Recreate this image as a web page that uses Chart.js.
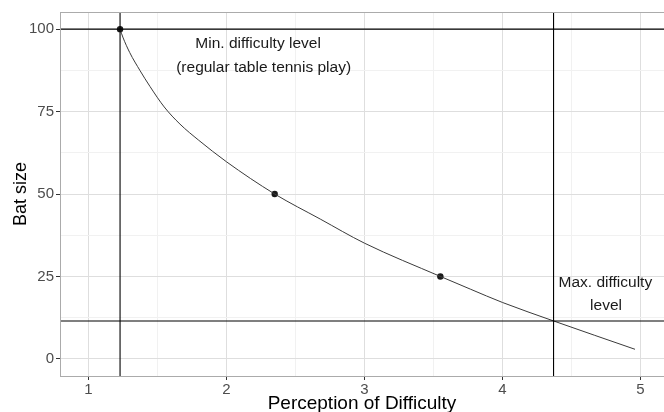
<!DOCTYPE html>
<html>
<head>
<meta charset="utf-8">
<script src="https://cdn.jsdelivr.net/npm/chart.js@4/dist/chart.umd.min.js"></script>
<style>
  html, body { margin: 0; padding: 0; background: #fff; }
  canvas { display: block; }
</style>
</head>
<body>
<canvas id="chart" width="664" height="412"></canvas>
<script>
// curve
const curveX = [1.23, 1.25, 1.30, 1.375, 1.447, 1.55, 1.664, 1.80, 2.00, 2.35, 2.68, 3.00, 3.55, 3.77, 4.00, 4.37, 4.96];
const curveY = [100, 97.6, 92.9, 87.4, 82.6, 76.4, 71.2, 66.3, 59.8, 50, 42.4, 35.1, 25, 21.1, 17.1, 11.5, 2.9];

// highlighted points
const pointX = [1.23, 2.35, 3.55];
const pointY = [100, 50, 25];

// reference lines
const hLines = [100, 11.5];
const vLines = [1.23, 4.37];

// ticks
const xMajor = [1, 2, 3, 4, 5];
const xMinor = [1.5, 2.5, 3.5, 4.5];
const yMajor = [0, 25, 50, 75, 100];
const yMinor = [12.5, 37.5, 62.5, 87.5];

// text labels
const noteText = ['Min. difficulty level', '(regular table tennis play)', 'Max. difficulty', 'level'];
const noteX = [2.23, 2.27, 4.745, 4.75];
const noteY = [95.6, 88.4, 23.2, 16.1];

const X_MIN = 0.795, X_MAX = 5.17;
const Y_MIN = -5.2, Y_MAX = 105.2;

const FONT = '"Liberation Sans", Arial, Helvetica, sans-serif';

const datasets = [];

hLines.forEach(v => {
  datasets.push({
    data: [{x: X_MIN, y: v}, {x: X_MAX, y: v}],
    showLine: true, borderColor: '#000', borderWidth: 1.1, pointRadius: 0
  });
});
vLines.forEach(v => {
  datasets.push({
    data: [{x: v, y: Y_MIN}, {x: v, y: Y_MAX}],
    showLine: true, borderColor: '#000', borderWidth: 1.1, pointRadius: 0
  });
});

datasets.push({
  data: curveX.map((x, i) => ({x: x, y: curveY[i]})),
  showLine: true, borderColor: '#3a3a3a', borderWidth: 1,
  pointRadius: 0, cubicInterpolationMode: 'monotone'
});

datasets.push({
  data: pointX.map((x, i) => ({x: x, y: pointY[i]})),
  showLine: false, pointRadius: 3.2, pointBackgroundColor: '#1a1a1a',
  pointBorderColor: '#1a1a1a', pointBorderWidth: 0
});

const isMajor = (list, v) => list.some(m => Math.abs(m - v) < 1e-6);

const panelAndNotes = {
  id: 'panelAndNotes',
  afterDraw(chart) {
    const {ctx, chartArea, scales} = chart;
    ctx.save();
    ctx.fillStyle = '#1a1a1a';
    ctx.font = '15.5px ' + FONT;
    ctx.textAlign = 'center';
    ctx.textBaseline = 'middle';
    noteText.forEach((t, i) => {
      ctx.fillText(t, scales.x.getPixelForValue(noteX[i]), scales.y.getPixelForValue(noteY[i]));
    });
    // panel border (right side falls just outside the canvas, as in the original)
    ctx.strokeStyle = '#ababab';
    ctx.lineWidth = 1;
    ctx.strokeRect(chartArea.left + 0.5, chartArea.top + 0.5,
      chartArea.right - chartArea.left + 2, chartArea.bottom - chartArea.top);
    ctx.restore();
  }
};

new Chart(document.getElementById('chart'), {
  type: 'scatter',
  data: { datasets: datasets },
  options: {
    responsive: false,
    animation: false,
    devicePixelRatio: 1,
    layout: { autoPadding: false, padding: { top: 12, right: 0, left: 0, bottom: 0 } },
    plugins: { legend: { display: false }, tooltip: { enabled: false } },
    scales: {
      x: {
        type: 'linear', min: X_MIN, max: X_MAX,
        afterBuildTicks: s => { s.ticks = xMajor.concat(xMinor).sort((a, b) => a - b).map(v => ({value: v})); },
        afterFit: s => { s.height = 36; s.paddingLeft = 0; s.paddingRight = 0; },
        border: { display: false },
        grid: {
          color: c => isMajor(xMajor, c.tick.value) ? '#dedede' : '#f1f1f1',
          tickColor: c => isMajor(xMajor, c.tick.value) ? '#333' : 'rgba(0,0,0,0)',
          tickLength: 4, lineWidth: 1
        },
        ticks: {
          autoSkip: false, maxRotation: 0, padding: 1,
          color: '#4d4d4d', font: { family: FONT, size: 15 },
          callback: v => isMajor(xMajor, v) ? String(v) : ''
        },
        title: {
          display: true, text: 'Perception of Difficulty', color: '#000',
          font: { family: FONT, size: 19, lineHeight: 0.9 }, padding: { top: 0, bottom: 0 }
        }
      },
      y: {
        type: 'linear', min: Y_MIN, max: Y_MAX,
        afterBuildTicks: s => { s.ticks = yMajor.concat(yMinor).sort((a, b) => a - b).map(v => ({value: v})); },
        afterFit: s => { s.width = 60; s.paddingTop = 0; s.paddingBottom = 0; },
        border: { display: false },
        grid: {
          color: c => isMajor(yMajor, c.tick.value) ? '#dedede' : '#f1f1f1',
          tickColor: c => isMajor(yMajor, c.tick.value) ? '#333' : 'rgba(0,0,0,0)',
          tickLength: 4, lineWidth: 1
        },
        ticks: {
          autoSkip: false, padding: 2,
          color: '#4d4d4d', font: { family: FONT, size: 15 },
          callback: v => isMajor(yMajor, v) ? String(v) : ''
        },
        title: {
          display: true, text: 'Bat size', color: '#000',
          font: { family: FONT, size: 18, lineHeight: 1.2 }, padding: { top: 10, bottom: 0 }
        }
      }
    }
  },
  plugins: [panelAndNotes]
});
</script>
</body>
</html>
